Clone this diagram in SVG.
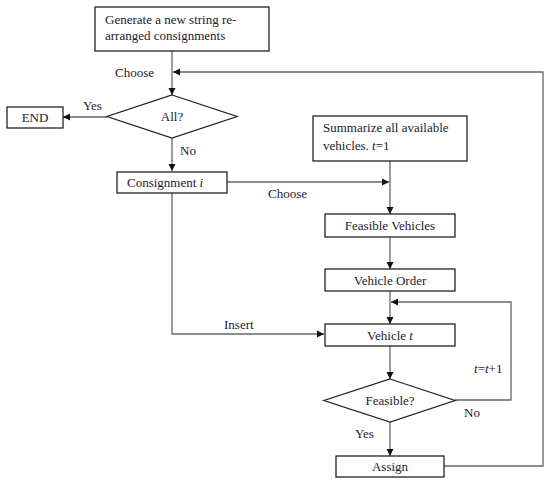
<svg xmlns="http://www.w3.org/2000/svg" width="550" height="486" viewBox="0 0 550 486">
<style>
.box{fill:#fff;stroke:#222;stroke-width:1.3}
.ln{fill:none;stroke:#666;stroke-width:1.3}
text{font-family:"Liberation Serif","Times New Roman",serif;font-size:13px;fill:#1a1a33}
.c{text-anchor:middle}
</style>
<defs>
<marker id="ah" markerWidth="8" markerHeight="8" refX="7" refY="4" orient="auto" markerUnits="userSpaceOnUse">
<path d="M0,0.5 L7,4 L0,7.5 Z" fill="#111"/>
</marker>
</defs>
<rect width="550" height="486" fill="#fff"/>
<g id="connectors">
<path class="ln" d="M172,51 V95" marker-end="url(#ah)"/>
<path class="ln" d="M107,117 H63" marker-end="url(#ah)"/>
<path class="ln" d="M172,138 V171" marker-end="url(#ah)"/>
<path class="ln" d="M227,182 H389" marker-end="url(#ah)"/>
<path class="ln" d="M390,161 V214" marker-end="url(#ah)"/>
<path class="ln" d="M390,237 V269" marker-end="url(#ah)"/>
<path class="ln" d="M390,291 V324" marker-end="url(#ah)"/>
<path class="ln" d="M172,193 V334 H324" marker-end="url(#ah)"/>
<path class="ln" d="M390,346 V379" marker-end="url(#ah)"/>
<path class="ln" d="M455,400 H511 V302 H391" marker-end="url(#ah)"/>
<path class="ln" d="M390,422 V456" marker-end="url(#ah)"/>
<path class="ln" d="M444,466 H543 V72 H173" marker-end="url(#ah)"/>
<text x="115" y="77">Choose</text>
<text x="83" y="110">Yes</text>
<text x="180" y="155">No</text>
<text x="268" y="198">Choose</text>
<text x="224" y="329">Insert</text>
<text x="474" y="373"><tspan font-style="italic">t</tspan>=<tspan font-style="italic">t</tspan>+1</text>
<text x="464" y="417">No</text>
<text x="355" y="438">Yes</text>
</g>
<g id="start">
<rect class="box" x="95" y="7" width="174" height="44"/>
<text x="105" y="24">Generate a new string re-</text>
<text x="105" y="40">arranged consignments</text>
</g>
<g id="all">
<polygon class="box" points="172,95 237,116.5 172,138 107,116.5"/>
<text class="c" x="172" y="121">All?</text>
</g>
<g id="end">
<rect class="box" x="7" y="107" width="56" height="21"/>
<text class="c" x="35" y="122">END</text>
</g>
<g id="consignment">
<rect class="box" x="117" y="172" width="110" height="21"/>
<text x="127" y="187">Consignment <tspan font-style="italic">i</tspan></text>
</g>
<g id="summarize">
<rect class="box" x="313" y="116" width="154" height="45"/>
<text x="323" y="132">Summarize all available</text>
<text x="323" y="150">vehicles. <tspan font-style="italic">t</tspan>=1</text>
</g>
<g id="feasible-vehicles">
<rect class="box" x="325" y="214" width="130" height="23"/>
<text class="c" x="390" y="230">Feasible Vehicles</text>
</g>
<g id="vehicle-order">
<rect class="box" x="325" y="269" width="130" height="22"/>
<text class="c" x="390" y="285">Vehicle Order</text>
</g>
<g id="vehicle-t">
<rect class="box" x="325" y="324" width="130" height="22"/>
<text class="c" x="390" y="340">Vehicle <tspan font-style="italic">t</tspan></text>
</g>
<g id="feasible">
<polygon class="box" points="390,379 455,400.5 390,422 324,400.5"/>
<text class="c" x="390" y="405">Feasible?</text>
</g>
<g id="assign">
<rect class="box" x="336" y="456" width="108" height="21"/>
<text class="c" x="390" y="471">Assign</text>
</g>
</svg>
